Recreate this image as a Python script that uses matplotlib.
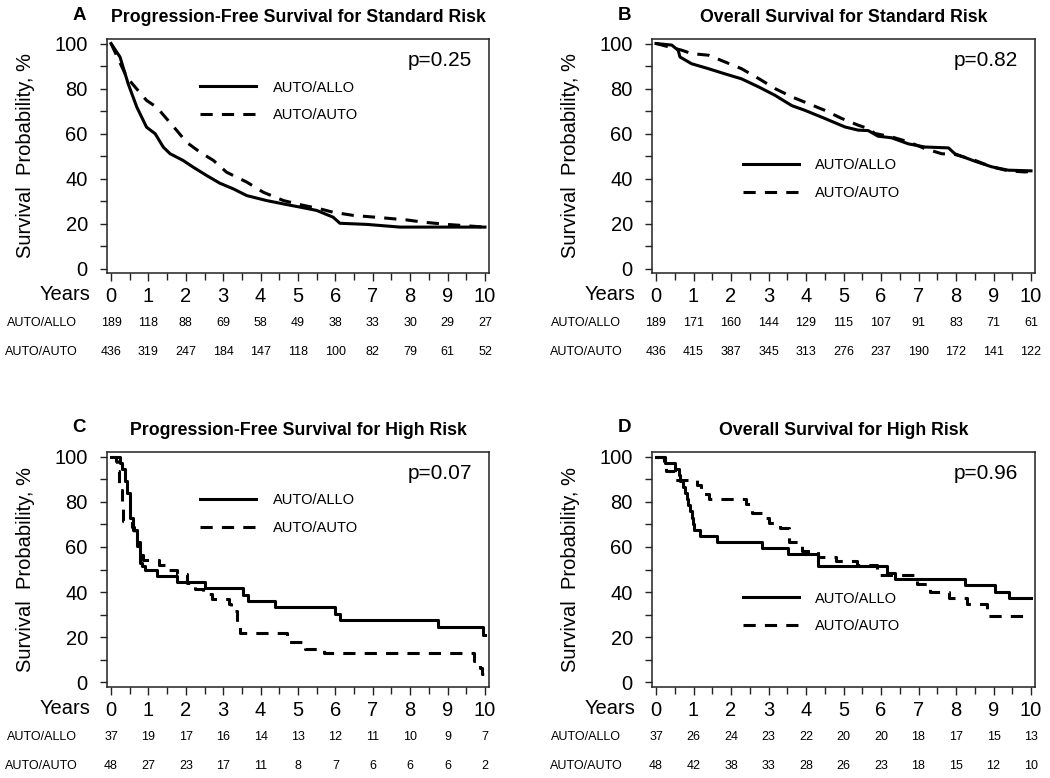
import numpy as np
import matplotlib
matplotlib.use("Agg")
import matplotlib.pyplot as plt
import matplotlib.transforms as mtransforms

plt.rcParams['font.family'] = ['Liberation Sans', 'DejaVu Sans']

years = [0, 1, 2, 3, 4, 5, 6, 7, 8, 9, 10]
groups = ["AUTO/ALLO", "AUTO/AUTO"]

# A - PFS standard risk (smooth KM)
a_allo_t = [0, 0.24, 0.46, 0.69, 0.95, 1.18, 1.40, 1.58, 1.93, 2.2, 2.56, 2.91, 3.27, 3.63, 4.16, 4.70, 5.05, 5.5, 5.94, 6.12, 6.84, 7.73, 10]
a_allo_s = [100, 94, 82, 71.7, 62.8, 59.9, 53.9, 51, 48, 45, 41.3, 37.9, 35.4, 32.4, 30.2, 28.4, 27.3, 25.8, 22.8, 20.1, 19.6, 18.4, 18.4]
a_auto_t = [0, 0.42, 0.95, 1.22, 1.49, 1.76, 2.02, 2.38, 2.74, 3.09, 3.63, 4.07, 4.61, 5.05, 5.59, 5.94, 6.48, 7.28, 7.9, 8.35, 8.98, 10]
a_auto_s = [100, 85, 74.7, 71.7, 66.5, 61.3, 56.1, 51.7, 48, 42.8, 38.4, 33.9, 30.2, 28.4, 26.5, 25, 23.6, 22.5, 21.6, 20.6, 19.6, 18.4]

# B - OS standard risk
b_allo_t = [0, 0.42, 0.59, 0.64, 0.95, 1.4, 1.84, 2.28, 2.75, 3.17, 3.62, 3.97, 4.5, 5.04, 5.39, 5.66, 5.92, 6.28, 6.73, 7.17, 7.8, 7.97, 8.5, 8.95, 9.39, 10]
b_allo_s = [100, 99.3, 97, 94, 91, 88.8, 86.5, 84.3, 80.6, 77, 72.4, 70.3, 66.7, 62.9, 61.5, 61.3, 58.8, 58.1, 55.4, 54, 53.6, 51, 47.7, 45.2, 43.7, 43.4]
b_auto_t = [0, 0.69, 0.95, 1.4, 1.84, 2.28, 2.75, 3.17, 3.62, 4.06, 4.5, 4.95, 5.39, 5.66, 5.84, 6.28, 6.73, 7.17, 7.62, 7.97, 8.5, 8.95, 9.39, 9.84, 10]
b_auto_s = [100, 97, 95.5, 94.8, 91.8, 88.8, 84.3, 80, 76.3, 73.3, 70.3, 66.7, 63.7, 62.2, 60, 58.5, 56.3, 53.3, 51, 50.7, 48.1, 45.2, 43.4, 42.9, 43.2]

# C - PFS high risk (step KM)
c_allo_t = [0, 0.24, 0.30, 0.36, 0.42, 0.51, 0.60, 0.69, 0.78, 0.82, 0.91, 1.22, 1.76, 2.51, 3.54, 3.67, 4.39, 5.99, 6.12, 8.75, 9.96, 10]
c_allo_s = [100, 97.3, 94.6, 89.2, 83.8, 73, 67.6, 62.2, 52.9, 51.4, 50, 47, 44.4, 41.7, 38.9, 36.1, 33.3, 30.5, 27.8, 24.7, 21.2, 21.2]
c_auto_t = [0, 0.12, 0.16, 0.22, 0.28, 0.33, 0.55, 0.62, 0.70, 0.78, 0.85, 1.27, 1.55, 1.76, 2.02, 2.25, 2.45, 2.70, 3.15, 3.22, 3.36, 3.45, 4.70, 5.20, 5.70, 9.70, 9.88, 9.93, 10]
c_auto_s = [100, 97.9, 93.8, 85, 77, 71.5, 68.8, 64.6, 60.4, 56.3, 54.2, 52.1, 50, 47.9, 44, 41.2, 39, 36.8, 34.6, 31.7, 26.5, 22, 17.8, 14.9, 13, 9.7, 6.5, 3.8, 3.8]

# D - OS high risk
d_allo_t = [0, 0.24, 0.51, 0.60, 0.65, 0.72, 0.77, 0.82, 0.86, 0.90, 0.95, 0.99, 1.02, 1.17, 1.62, 2.82, 3.53, 4.33, 6.15, 6.37, 8.24, 9.04, 9.40, 10]
d_allo_s = [100, 97.3, 94.6, 91.9, 89.2, 86.5, 83.8, 81.1, 78.4, 75.7, 73, 70.3, 67.6, 64.9, 62.2, 59.5, 56.8, 51.4, 48.6, 45.9, 43.2, 40.2, 37.2, 37.2]
d_auto_t = [0, 0.20, 0.27, 0.51, 1.10, 1.20, 1.40, 2.40, 2.55, 2.90, 3.00, 3.30, 3.55, 3.90, 4.33, 4.80, 5.35, 5.90, 6.95, 7.30, 7.80, 8.28, 8.82, 10]
d_auto_s = [100, 97.9, 93.8, 89.6, 87.5, 83.3, 81.3, 79.2, 75, 72.9, 70.8, 68.4, 62.3, 58.3, 55.7, 53.8, 51.8, 47.5, 43.8, 40, 37.2, 34.6, 29.4, 29.4]

# numbers at risk
a_risk = [[189, 118, 88, 69, 58, 49, 38, 33, 30, 29, 27], [436, 319, 247, 184, 147, 118, 100, 82, 79, 61, 52]]
b_risk = [[189, 171, 160, 144, 129, 115, 107, 91, 83, 71, 61], [436, 415, 387, 345, 313, 276, 237, 190, 172, 141, 122]]
c_risk = [[37, 19, 17, 16, 14, 13, 12, 11, 10, 9, 7], [48, 27, 23, 17, 11, 8, 7, 6, 6, 6, 2]]
d_risk = [[37, 26, 24, 23, 22, 20, 20, 18, 17, 15, 13], [48, 42, 38, 33, 28, 26, 23, 18, 15, 12, 10]]

titles = ["Progression-Free Survival for Standard Risk", "Overall Survival for Standard Risk",
          "Progression-Free Survival for High Risk", "Overall Survival for High Risk"]
letters = ["A", "B", "C", "D"]
pvals = ["p=0.25", "p=0.82", "p=0.07", "p=0.96"]

W, H = 1050, 778
fig = plt.figure(figsize=(W / 100, H / 100), dpi=100)

# axes boxes in pixels: left, top, right, bottom
boxes = [(107.3, 39, 488.7, 273), (652.25, 39, 1034.75, 273),
         (107.3, 452, 488.7, 687), (652.25, 452, 1034.75, 687)]
# legend anchor (axes fraction)
leg_pos = [(0.242, 0.733), (0.236, 0.40), (0.242, 0.736), (0.236, 0.317)]

curves = [((a_allo_t, a_allo_s), (a_auto_t, a_auto_s), False),
          ((b_allo_t, b_allo_s), (b_auto_t, b_auto_s), False),
          ((c_allo_t, c_allo_s), (c_auto_t, c_auto_s), True),
          ((d_allo_t, d_allo_s), (d_auto_t, d_auto_s), True)]
risks = [a_risk, b_risk, c_risk, d_risk]

for i in range(4):
    l, t, r, b = boxes[i]
    ax = fig.add_axes([l / W, (H - b) / H, (r - l) / W, (b - t) / H])
    (t1, s1), (t2, s2), steps = curves[i]
    ds = 'steps-post' if steps else 'default'
    ax.plot(t1, s1, color='black', lw=2.2, drawstyle=ds, label=groups[0])
    ln, = ax.plot(t2, s2, color='black', lw=2.2, drawstyle=ds, label=groups[1])
    ln.set_dashes([4, 3])
    ax.set_xlim(-0.1, 10.1)
    ax.set_ylim(-2, 102)
    ax.set_xticks(years)
    ax.set_xticks(np.arange(0.5, 10, 1), minor=True)
    ax.set_yticks(range(0, 101, 20))
    ax.set_yticks(range(10, 100, 20), minor=True)
    ax.tick_params(axis='both', which='both', direction='out', color='#222222', width=1)
    ax.tick_params(axis='x', which='major', length=6, pad=4, labelsize=14.5)
    ax.tick_params(axis='x', which='minor', length=5)
    ax.tick_params(axis='y', which='both', length=5, pad=9, labelsize=14.5)
    for sp in ax.spines.values():
        sp.set_color('#222222')
        sp.set_linewidth(1.1)
    ax.set_ylabel("Survival  Probability, %", fontsize=14.5)
    ax.yaxis.set_label_coords(-0.19, 0.5)
    ax.set_title(titles[i], fontsize=12.8, fontweight='bold', pad=12)
    ax.text(-0.073, 1.0 + 24 / (b - t), letters[i], transform=ax.transAxes, fontsize=13.5,
            fontweight='bold', ha='center', va='center')
    ax.text(0.956, 0.91, pvals[i], transform=ax.transAxes, fontsize=15, ha='right', va='center')
    ax.legend(loc='center left', bbox_to_anchor=leg_pos[i], frameon=False, fontsize=10.5,
              handlelength=3.9, handletextpad=1.1, labelspacing=0.95, borderpad=0, borderaxespad=0)

    # risk table
    trans = mtransforms.blended_transform_factory(ax.transData, ax.transAxes)
    h = b - t
    ax.text(-0.045, -21 / h, "Years", transform=ax.transAxes, fontsize=14.5, ha='right', va='center')
    for g in range(2):
        yy = -(50 + 29 * g) / h
        ax.text(-0.172, yy, groups[g], transform=ax.transAxes, fontsize=9, ha='center', va='center')
        for k in range(len(years)):
            ax.text(years[k], yy, str(risks[i][g][k]), transform=trans, fontsize=9, ha='center', va='center')

plt.savefig("out.png", dpi=100)
